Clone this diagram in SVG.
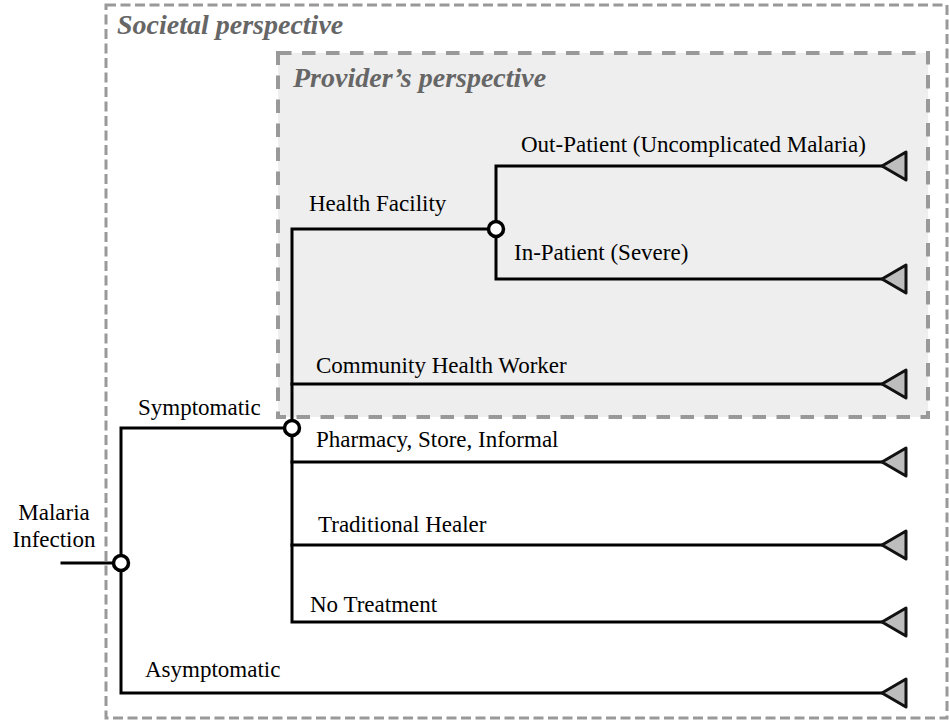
<svg xmlns="http://www.w3.org/2000/svg" width="949" height="723" viewBox="0 0 949 723">
  <style>
    .frame-outer { fill: none; stroke: #999999; stroke-width: 3; stroke-dasharray: 10 4.5; }
    .frame-inner { fill: #eeeeee; stroke: #999999; stroke-width: 4; stroke-dasharray: 13.5 10.5; }
    .title { font-family: "Liberation Serif", "Times New Roman", serif; font-size: 28px; font-weight: bold; font-style: italic; fill: #666666; }
    .lbl { font-family: "Liberation Serif", "Times New Roman", serif; font-size: 23px; fill: #000000; }
    .edge { fill: none; stroke: #000000; stroke-width: 3; stroke-linejoin: miter; stroke-linecap: square; }
    .chance { fill: #ffffff; stroke: #000000; stroke-width: 3.5; }
    .terminal { fill: #bdbdbd; stroke: #111111; stroke-width: 3; stroke-linejoin: round; }
  </style>
  <defs>
    <!-- terminal node: left-pointing triangle, tip at origin -->
    <polygon id="tri" points="0,0 24,-14 24,14"/>
    <filter id="soft" x="-20%" y="-200%" width="140%" height="500%">
      <feGaussianBlur stdDeviation="1.5"/>
    </filter>
  </defs>

  <!-- perspective frames -->
  <g id="societal">
    <rect class="frame-outer" x="106" y="5" width="841" height="713"/>
    <text class="title" x="117" y="34">Societal perspective</text>
  </g>
  <g id="provider">
    <rect class="frame-inner" x="278" y="53" width="650" height="364"/>
    <text class="title" x="293" y="87">Provider’s perspective</text>
  </g>

  <!-- branches -->
  <g id="connectors">
    <line x1="64" y1="567" x2="113" y2="567" stroke="#888" stroke-width="3" opacity="0.6" filter="url(#soft)"/>
    <line class="edge" x1="62" y1="563" x2="113" y2="563"/>
    <polyline class="edge" points="292,428 121,428 121,693 882,693"/>
    <polyline class="edge" points="496,229 292,229 292,622 882,622"/>
    <line class="edge" x1="292" y1="384" x2="882" y2="384"/>
    <line class="edge" x1="292" y1="462" x2="882" y2="462"/>
    <line class="edge" x1="292" y1="545" x2="882" y2="545"/>
    <polyline class="edge" points="882,166 496,166 496,279 882,279"/>
  </g>

  <!-- chance nodes -->
  <g id="root">
    <circle class="chance" cx="121" cy="563" r="7.5"/>
    <text class="lbl" x="54" y="520" text-anchor="middle">Malaria</text>
    <text class="lbl" x="54" y="547" text-anchor="middle">Infection</text>
  </g>
  <g id="symptomatic">
    <circle class="chance" cx="292" cy="428" r="7.5"/>
    <text class="lbl" x="138" y="415">Symptomatic</text>
  </g>
  <g id="health-facility">
    <circle class="chance" cx="496" cy="229" r="7.5"/>
    <text class="lbl" x="309" y="211">Health Facility</text>
  </g>

  <!-- terminal outcomes -->
  <g id="out-patient">
    <use href="#tri" class="terminal" x="882" y="166"/>
    <text class="lbl" x="521" y="152">Out-Patient (Uncomplicated Malaria)</text>
  </g>
  <g id="in-patient">
    <use href="#tri" class="terminal" x="882" y="279"/>
    <text class="lbl" x="514" y="260">In-Patient (Severe)</text>
  </g>
  <g id="chw">
    <use href="#tri" class="terminal" x="882" y="384"/>
    <text class="lbl" x="316" y="373">Community Health Worker</text>
  </g>
  <g id="pharmacy">
    <use href="#tri" class="terminal" x="882" y="462"/>
    <text class="lbl" x="316" y="447">Pharmacy, Store, Informal</text>
  </g>
  <g id="healer">
    <use href="#tri" class="terminal" x="882" y="545"/>
    <text class="lbl" x="318" y="532">Traditional Healer</text>
  </g>
  <g id="no-treatment">
    <use href="#tri" class="terminal" x="882" y="622"/>
    <text class="lbl" x="310" y="612">No Treatment</text>
  </g>
  <g id="asymptomatic">
    <use href="#tri" class="terminal" x="882" y="693"/>
    <text class="lbl" x="145" y="677">Asymptomatic</text>
  </g>
</svg>
